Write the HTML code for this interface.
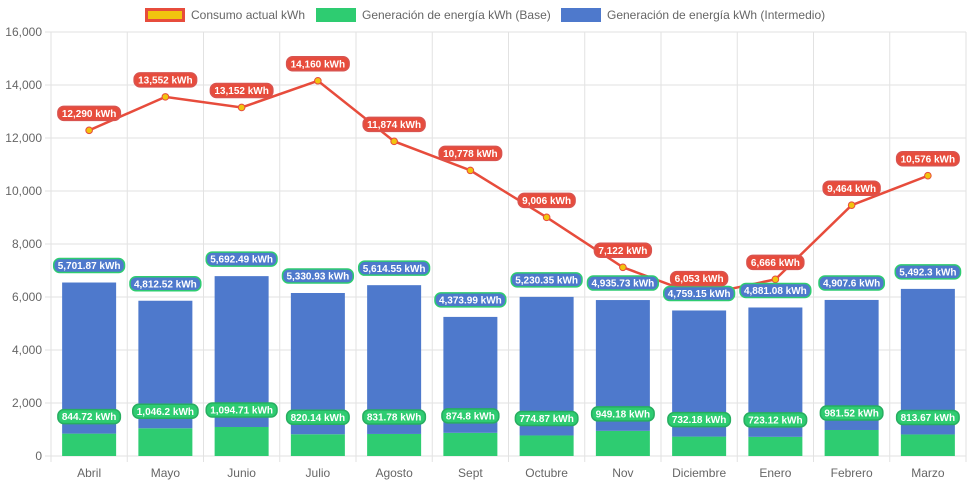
<!DOCTYPE html>
<html><head><meta charset="utf-8"><style>
html,body{margin:0;padding:0;background:#fff}
svg{display:block;font-family:"Liberation Sans",Arial,sans-serif}
</style></head><body>
<svg id="c" width="971" height="485"></svg>
<script>
const categories=["Abril","Mayo","Junio","Julio","Agosto","Sept","Octubre","Nov","Diciembre","Enero","Febrero","Marzo"];
const consumo=[12290,13552,13152,14160,11874,10778,9006,7122,6053,6666,9464,10576];
const base=[844.72,1046.2,1094.71,820.14,831.78,874.8,774.87,949.18,732.18,723.12,981.52,813.67];
const inter=[5701.87,4812.52,5692.49,5330.93,5614.55,4373.99,5230.35,4935.73,4759.15,4881.08,4907.6,5492.3];
const yTicks=[0,2000,4000,6000,8000,10000,12000,14000,16000];

const svg=document.getElementById('c');const NS='http://www.w3.org/2000/svg';
const L=51,R=966,T=32,B=456,YMAX=16000;
const step=(R-L)/categories.length;
const xC=i=>L+step*(i+0.5);
const y=v=>B-(v/YMAX)*(B-T);
function el(t,a,p){const e=document.createElementNS(NS,t);for(const k in a)e.setAttribute(k,a[k]);(p||svg).appendChild(e);return e;}
const fmt=v=>v.toLocaleString('en-US',{maximumFractionDigits:2});

// grid
yTicks.forEach(v=>{
  const g=el('line',{x1:L-6,x2:R,y1:y(v),y2:y(v),stroke:'#e2e2e2','stroke-width':1});
  
  
  const t=el('text',{x:L-9,y:y(v)+4,'text-anchor':'end','font-size':12,fill:'#666'});
  t.textContent=fmt(v);
  
  
});
for(let i=0;i<=categories.length;i++){
  const g=el('line',{x1:L+step*i,x2:L+step*i,y1:T,y2:B+6,stroke:'#e2e2e2','stroke-width':1});
  
  
}
categories.forEach((c,i)=>{
  const t=el('text',{x:xC(i),y:B+21,'text-anchor':'middle','font-size':12,fill:'#666'});
  t.textContent=c;
  
  
});
// bars
const bw=54;
categories.forEach((c,i)=>{
  const b=el('rect',{x:xC(i)-bw/2,y:y(base[i]),width:bw,height:B-y(base[i]),fill:'#2ecc71'});
  
  
  const top=base[i]+inter[i];
  const r=el('rect',{x:xC(i)-bw/2,y:y(top),width:bw,height:y(base[i])-y(top),fill:'#4e79cc'});
  
  
});
// line
const pts=consumo.map((v,i)=>xC(i)+','+y(v)).join(' ');
const pl=el('polyline',{points:pts,fill:'none',stroke:'#e74c3c','stroke-width':2.5});


consumo.forEach((v,i)=>{
  const p=el('circle',{cx:xC(i),cy:y(v),r:3.3,fill:'#f1c40f',stroke:'#e74c3c','stroke-width':1});
  
  
});
// labels
function label(cx,cy,txt,bg,bd,name){
  const g=el('g',{});
  
  
  const t=el('text',{x:cx,y:cy+3.6,'text-anchor':'middle','font-size':10,'font-weight':'bold',fill:'#fff'},g);
  t.textContent=txt;
  const w=t.getComputedTextLength()+8;
  const r=el('rect',{x:cx-w/2,y:cy-7,width:w,height:14,rx:6,fill:bg,stroke:bd,'stroke-width':1.5});
  g.insertBefore(r,t);
}
categories.forEach((c,i)=>{
  label(xC(i),y(base[i])-17,fmt(base[i])+' kWh','#2ecc71','#27ae60','base-value-label');
  label(xC(i),y(base[i]+inter[i])-17,fmt(inter[i])+' kWh','#4e79cc','#2ecc71','intermedio-value-label');
  label(xC(i),y(consumo[i])-17,fmt(consumo[i])+' kWh','#e74c3c','#d9534f','consumo-value-label');
});
// legend
const leg=[
 {x:145,t:'Consumo actual kWh',f:'#f1c40f',s:'#e74c3c',n:'legend-consumo'},
 {x:316,t:'Generación de energía kWh (Base)',f:'#2ecc71',s:'#2ecc71',n:'legend-base'},
 {x:561,t:'Generación de energía kWh (Intermedio)',f:'#4e79cc',s:'#4e79cc',n:'legend-intermedio'}];
leg.forEach(l=>{
  const g=el('g',{});
  
  
  el('rect',{x:l.x+1.5,y:9.5,width:37,height:11,fill:l.f,stroke:l.s,'stroke-width':3},g);
  const t=el('text',{x:l.x+46,y:19,'font-size':12,fill:'#666'},g);
  t.textContent=l.t;
});
</script>
</body></html>
